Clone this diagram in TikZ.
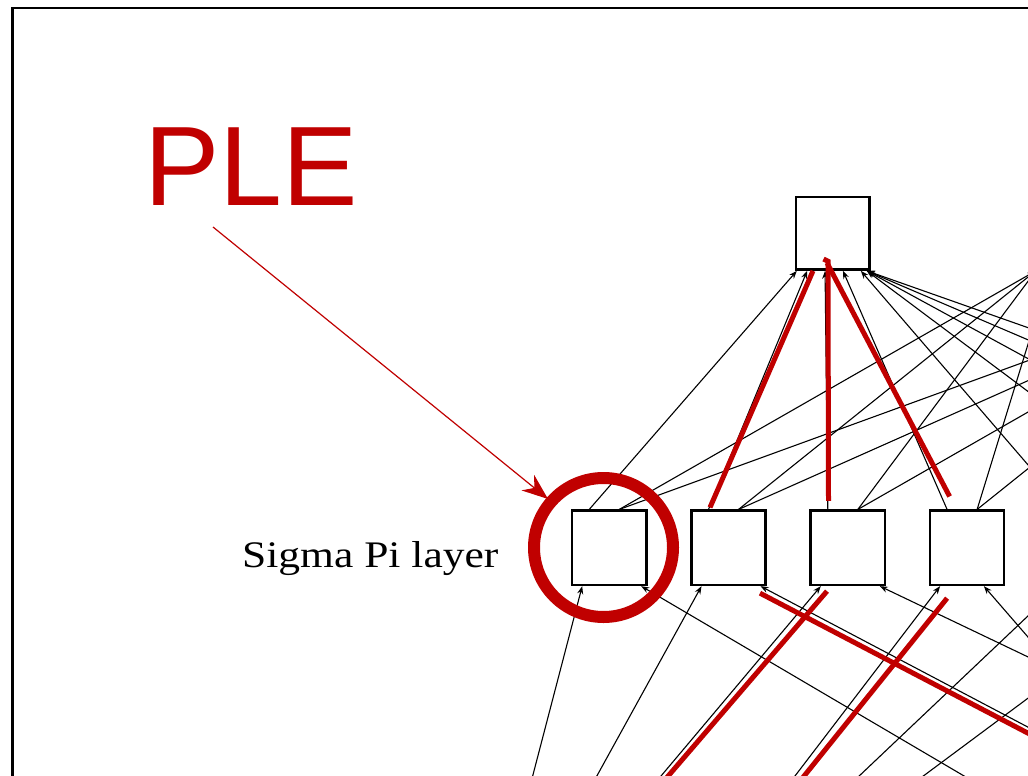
\documentclass[tikz,border=0pt]{standalone}
\usepackage{fontspec}
\setmainfont{Liberation Serif}
\newfontfamily\plefont{Liberation Sans}
\usetikzlibrary{arrows.meta,calc}
\definecolor{plered}{RGB}{192,0,0}
\begin{document}
\begin{tikzpicture}[x=1pt,y=-1pt,
  unitbox/.style={draw, rectangle, line width=2.4, fill=white, inner sep=0, minimum width=74.3, minimum height=74.3},
  topbox/.style={unitbox, minimum width=73.5, minimum height=72.5},
  conn/.style={line width=1.1, -{Stealth[length=8,width=6]}},
  hilite/.style={plered, line width=5},
  ]
\useasboundingbox (0,0) rectangle (1028,776);
\fill[white] (0,0) rectangle (1028,776);
\clip (0,0) rectangle (1028,776);
% frame
\draw[line width=2.4] (12.5,800) -- (12.5,8) -- (1060,8);
% output layer
\foreach \k in {1,2,3}{
  \node[topbox] (T\k) at ({832.8+239*(\k-1)},233.4) {};
}
% sigma pi layer
\foreach \i in {1,...,9}{
  \node[unitbox] (S\i) at ({609.2+119.3*(\i-1)},547.8) {};
}
% inputs (outside the visible area)
\foreach \n/\x in {L1/475,L2/626,L3/777,R1/1340,R2/1540,R3/1740}{
  \coordinate (\n) at (\x,997);
}
% sigma pi -> output
\foreach \i in {1,...,9}{
  \foreach \k in {1,2,3}{
    \pgfmathsetmacro{\sx}{ifthenelse(\k==1,-20,10)}
    \pgfmathsetmacro{\cs}{609.2+119.3*(\i-1)}
    \pgfmathsetmacro{\ct}{832.8+239*(\k-1)}
    \pgfmathsetmacro{\ao}{max(-36,min(34,-7+0.15*(\cs+\sx-\ct)))}
    \draw[conn] ($(S\i.north)+(\sx,0)$) -- ($(T\k.south)+(\ao,0)$);
  }
}
% inputs -> sigma pi
\foreach \i in {1,...,9}{
  \pgfmathtruncatemacro{\a}{div(\i-1,3)+1}
  \pgfmathtruncatemacro{\b}{mod(\i-1,3)+1}
  \pgfmathsetmacro{\cs}{609.2+119.3*(\i-1)}
  \pgfmathsetmacro{\rx}{ifthenelse(\b==1,1340,ifthenelse(\b==2,1540,1740))}
  \pgfmathsetmacro{\ro}{max(0,min(32,0.045*(\rx-\cs)))}
  \draw[conn] (L\a) -- ($(S\i.south)+(-27,0)$);
  \draw[conn] (R\b) -- ($(S\i.south)+(\ro,0)$);
}
% red highlights
\draw[hilite] ($(S2.north)+(-18.5,-2)$) -- ($(T1.south)+(-19.8,0)$);
\draw[hilite] ($(S3.north)+(-19.3,-8.6)$) -- ($(T1.south)+(-4.8,-9.6)$) -- ($(T1.south)+(-9.3,-11.8)$);
\draw[hilite] ($(T1.south)+(-5.8,-8)$) -- ($(S4.north)+(-17.5,-13)$);
\draw[hilite] ($(S2.south)+(31.5,7)$) -- ($(S2.south)+(431.5,216)$);
\draw[hilite] ($(S3.south)+(-20.8,5)$) -- ($(S3.south)+(-197.8,211)$);
\draw[hilite] ($(S4.south)+(-20,12)$) -- ($(S4.south)+(-180,211)$);
% labels
\node[anchor=base west, inner sep=0, text=plered, font=\plefont\fontsize{113}{113}\selectfont] (ple) at (144,205) {PLE};
\node[anchor=base west, inner sep=0, font=\fontsize{37.5}{40}\selectfont] (sigmalabel) at (242,567) {\scalebox{1.16}[1]{Sigma Pi layer}};
% ring and pointer
\node[circle, draw=plered, line width=12, minimum size=139, inner sep=0] (ring) at (603.5,547.5) {};
\coordinate (pletail) at (213,227);
\draw[plered, line width=1.2, -{Stealth[length=26,width=20]}] (pletail) -- ($(ring.center)+(-55.5,-48.5)$);
\end{tikzpicture}
\end{document}
